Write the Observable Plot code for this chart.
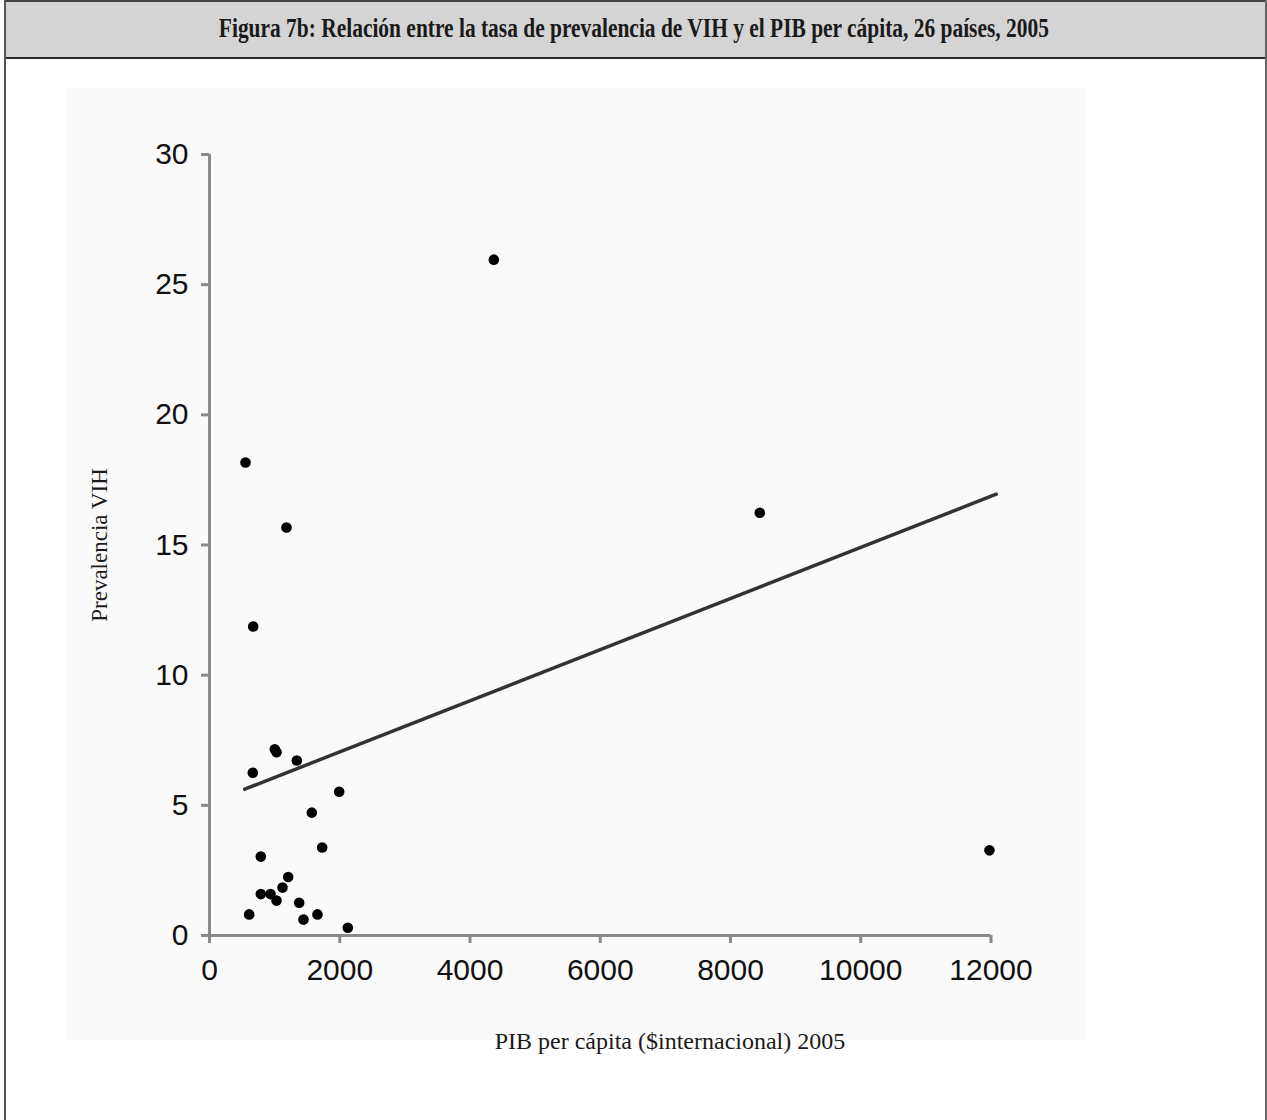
<!DOCTYPE html>
<html>
<head>
<meta charset="utf-8">
<script src="https://cdn.jsdelivr.net/npm/d3@7"></script>
<script src="https://cdn.jsdelivr.net/npm/@observablehq/plot@0.6"></script>
<style>
  html, body { margin: 0; padding: 0; background: #fff; }
  #page { position: relative; width: 1267px; height: 1120px; overflow: hidden; background: #fff; }
  #header { position: absolute; left: 4px; top: 0; width: 1263px; height: 55px;
    background: #d4d4d4; border-top: 2px solid #444; border-bottom: 1px solid #999; }
  #headerLine { position: absolute; left: 4px; top: 57px; width: 1263px; height: 2px; background: #2a2a2a; }
  #leftBorder { position: absolute; left: 4px; top: 0; width: 2px; height: 1120px; background: #555; }
  #rightBorder { position: absolute; left: 1265px; top: 0; width: 2px; height: 1120px; background: #666; }
  #title { position: absolute; left: 0; top: 0; width: 1267px; height: 57px; display: flex;
    align-items: center; justify-content: center; }
  #title span { display: inline-block; font-family: "Liberation Serif", serif; font-weight: bold;
    font-size: 27px; color: #1a1a1a; white-space: nowrap; transform-origin: center; }
  #body { position: absolute; left: 0; top: 59px; width: 1267px; height: 1061px; }
  #panel { position: absolute; left: 67px; top: 29px; width: 1019px; height: 952px; background: #fafafa; }
  #chart { position: absolute; left: 0; top: 0; }
  .axTitle { position: absolute; font-family: "Liberation Serif", serif; color: #1a1a1a; white-space: nowrap; }
</style>
</head>
<body>
<div id="page">
  <div id="body">
    <div id="panel"></div>
    <div id="chart"></div>
    <div class="axTitle" id="ylab"></div>
    <div class="axTitle" id="xlab"></div>
  </div>
  <div id="header"></div>
  <div id="headerLine"></div>
  <div id="leftBorder"></div>
  <div id="rightBorder"></div>
  <div id="title"><span id="titleText"></span></div>
</div>
<script>
const titleText = "Figura 7b: Relación entre la tasa de prevalencia de VIH y el PIB per cápita, 26 países, 2005";
const xLabel = "PIB per cápita ($internacional) 2005";
const yLabel = "Prevalencia VIH";

// GDP per capita (international $), 2005
const gdp = [665, 1003, 1029, 1341, 1991, 1571, 1730, 788, 1208, 1121, 788, 937, 1029, 1377, 609, 1658, 1443, 2124, 553, 1182, 671, 4366, 8450, 11976];
// HIV prevalence (%)
const hiv = [6.25, 7.15, 7.04, 6.72, 5.52, 4.72, 3.38, 3.03, 2.25, 1.84, 1.59, 1.59, 1.34, 1.26, 0.81, 0.81, 0.61, 0.30, 18.17, 15.67, 11.87, 25.96, 16.24, 3.27];

// fitted regression line endpoints
const fitX = [540, 12080];
const fitY = [5.62, 16.95];

const xTicks = [0, 2000, 4000, 6000, 8000, 10000, 12000];
const yTicks = [0, 5, 10, 15, 20, 25, 30];

const points = gdp.map((g, i) => ({gdp: g, hiv: hiv[i]}));
const fit = fitX.map((x, i) => ({gdp: x, hiv: fitY[i]}));

const axisColor = "#8a8a8a";

const chart = Plot.plot({
  width: 1267,
  height: 1061,
  marginLeft: 209,
  marginRight: 276.5,
  marginTop: 95,
  marginBottom: 185,
  style: {background: "transparent", fontFamily: "'Liberation Sans', Arial, sans-serif"},
  x: {domain: [0, 12000], ticks: xTicks},
  y: {domain: [0, 30], ticks: yTicks},
  marks: [
    Plot.axisX({ticks: xTicks, tickSize: 8, tickPadding: 15, stroke: axisColor, strokeWidth: 3,
      fontSize: 30, fill: "#111", label: null, tickFormat: d => String(d)}),
    Plot.axisY({ticks: yTicks, tickSize: 8, tickPadding: 13, stroke: axisColor, strokeWidth: 3,
      fontSize: 30, fill: "#111", label: null, tickFormat: d => String(d)}),
    Plot.ruleY([0], {stroke: axisColor, strokeWidth: 3}),
    Plot.ruleX([0], {stroke: axisColor, strokeWidth: 3}),
    Plot.line(fit, {x: "gdp", y: "hiv", stroke: "#333", strokeWidth: 3.5}),
    Plot.dot(points, {x: "gdp", y: "hiv", r: 5.3, fill: "#000", stroke: "none"})
  ]
});
document.getElementById("chart").appendChild(chart);

// Title, fitted to the reference width
const tspan = document.getElementById("titleText");
tspan.textContent = titleText;
const w = tspan.getBoundingClientRect().width;
tspan.style.transform = `scaleX(${830 / w})`;

// axis titles
const ylab = document.getElementById("ylab");
ylab.textContent = yLabel;
ylab.style.fontSize = "23px";
const yr = ylab.getBoundingClientRect();
ylab.style.left = (99.5 - yr.width / 2) + "px";
ylab.style.top = (486 - yr.height / 2) + "px";
ylab.style.transform = "rotate(-90deg)";

const xlab = document.getElementById("xlab");
xlab.textContent = xLabel;
xlab.style.fontSize = "24px";
const xr = xlab.getBoundingClientRect();
xlab.style.left = (670 - xr.width / 2) + "px";
xlab.style.top = (982 - xr.height / 2) + "px";
</script>
</body>
</html>
